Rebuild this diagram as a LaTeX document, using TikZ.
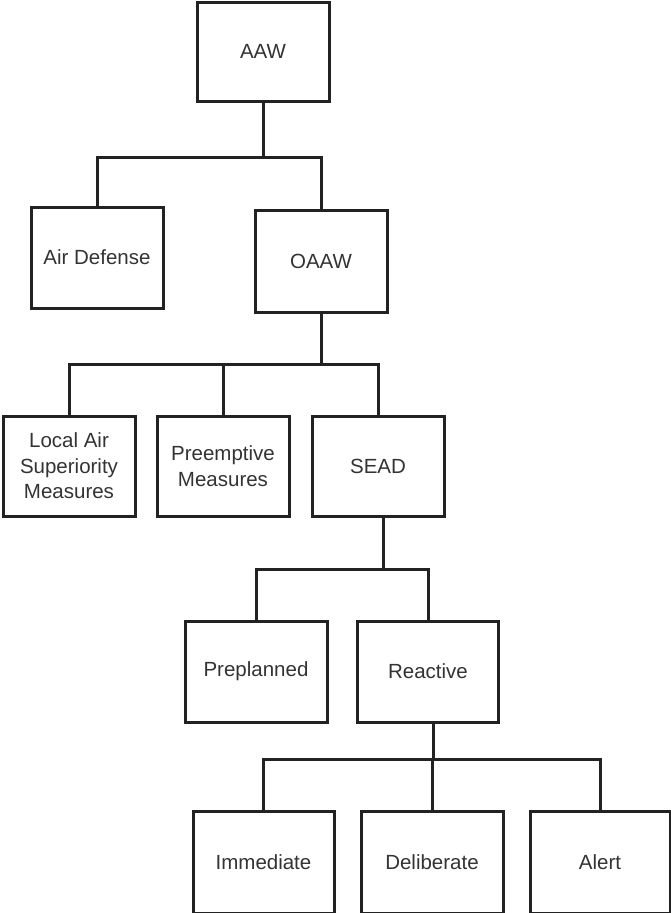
\documentclass[tikz,border=0pt]{standalone}
\usepackage{fontspec}
\setmainfont{Liberation Sans}
\definecolor{linec}{HTML}{222222}
\definecolor{textc}{HTML}{333333}
\begin{document}
\begin{tikzpicture}[x=1pt,y=-1pt,
  box/.style={draw=linec, line width=3pt, rectangle, inner sep=0pt, align=center,
    text=textc, font=\fontsize{20.5}{25.5}\selectfont},
  conn/.style={draw=linec, line width=3pt, line join=miter}]
\useasboundingbox (0,0) rectangle (671,913);
\node[box, minimum width=132, minimum height=99] (aaw) at (263,51.5) {AAW};
\node[box, minimum width=132, minimum height=101] (airdef) at (97,257.5) {Air Defense};
\node[box, minimum width=132, minimum height=102] (oaaw) at (321,261) {OAAW};
\node[box, minimum width=132, minimum height=100] (las) at (69,466) {Local Air\\Superiority\\Measures};
\node[box, minimum width=132, minimum height=100] (pre) at (223,466) {Preemptive\\Measures};
\node[box, minimum width=132, minimum height=100] (sead) at (378,466) {SEAD};
\node[box, minimum width=142, minimum height=101] (plan) at (256,671.5) {Preplanned};
\node[box, minimum width=141, minimum height=101] (react) at (428,671.5) {Reactive};
\node[box, minimum width=141, minimum height=102] (imm) at (263.5,862) {Immediate};
\node[box, minimum width=142, minimum height=102] (delib) at (432,862) {Deliberate};
\node[box, minimum width=140, minimum height=102] (alert) at (600,862) {Alert};
% junctions
\coordinate (j1) at (263,157);
\coordinate (j2) at (321,364);
\coordinate (j3) at (383,569);
\coordinate (j4) at (433,759);
\draw[conn] (aaw.south) -- (j1);
\draw[conn] (airdef.north) |- (j1) -| (oaaw.north);
\draw[conn] (oaaw.south) -- (j2);
\draw[conn] (las.north) |- (j2) -| (sead.north);
\draw[conn] (pre.north) -- (pre.north |- j2);
\draw[conn] ([xshift=5pt]sead.south) -- (j3);
\draw[conn] (plan.north) |- (j3) -| (react.north);
\draw[conn] ([xshift=5pt]react.south) -- (j4);
\draw[conn] (imm.north) |- (j4) -| (alert.north);
\draw[conn] (delib.north) -- (delib.north |- j4);
\end{tikzpicture}
\end{document}
